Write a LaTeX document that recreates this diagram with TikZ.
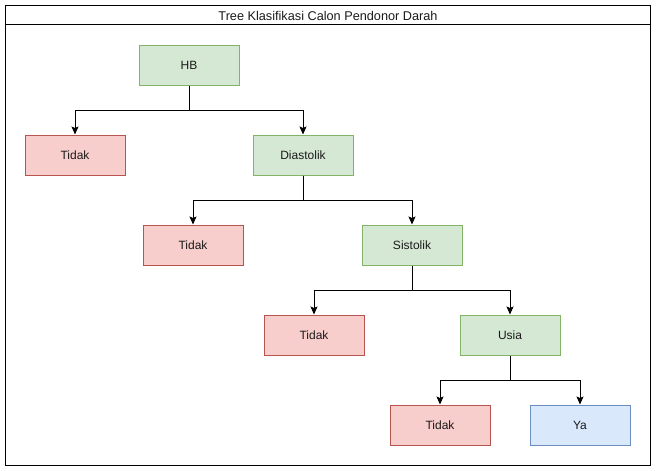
\documentclass[tikz,border=0pt]{standalone}
\usepackage{fontspec}
\setmainfont{Liberation Sans}
\usetikzlibrary{arrows.meta}
\definecolor{gfill}{HTML}{D5E8D4}\definecolor{gdraw}{HTML}{82B366}
\definecolor{rfill}{HTML}{F8CECC}\definecolor{rdraw}{HTML}{B85450}
\definecolor{bfill}{HTML}{DAE8FC}\definecolor{bdraw}{HTML}{6C8EBF}
\definecolor{txt}{HTML}{1A1A1A}
\begin{document}
\begin{tikzpicture}[x=1pt,y=-1pt,
  box/.style={rectangle,minimum width=100pt,minimum height=40pt,inner sep=0pt,line width=1pt,
    font=\fontsize{12}{14}\selectfont,text=txt},
  green/.style={box,fill=gfill,draw=gdraw},
  red/.style={box,fill=rfill,draw=rdraw},
  blue/.style={box,fill=bfill,draw=bdraw},
  edge/.style={line width=1pt,-{Stealth[length=8pt,width=7pt,inset=1.5pt]}}]
\useasboundingbox (0,0) rectangle (656,471);
\draw[line width=1pt] (5.5,5.5) rectangle (650,465);
\draw[line width=1pt] (5.5,24.5) -- (650,24.5);
\node[font=\fontsize{12.7}{14}\selectfont,text=txt] (title) at (328,16) {Tree Klasifikasi Calon Pendonor Darah};
\node[green] (hb) at (189,65) {HB};
\node[red] (t1) at (75,155) {Tidak};
\node[green] (dia) at (303,155) {Diastolik};
\node[red] (t2) at (193,245) {Tidak};
\node[green] (sis) at (412,245) {Sistolik};
\node[red] (t3) at (314,335) {Tidak};
\node[green] (usia) at (510,335) {Usia};
\node[red] (t4) at (440,425) {Tidak};
\node[blue] (ya) at (580,425) {Ya};
\draw[edge] (hb.south) |- ++(0,25) -| (t1.north);
\draw[edge] (hb.south) |- ++(0,25) -| (dia.north);
\draw[edge] (dia.south) |- ++(0,25) -| (t2.north);
\draw[edge] (dia.south) |- ++(0,25) -| (sis.north);
\draw[edge] (sis.south) |- ++(0,25) -| (t3.north);
\draw[edge] (sis.south) |- ++(0,25) -| (usia.north);
\draw[edge] (usia.south) |- ++(0,25) -| (t4.north);
\draw[edge] (usia.south) |- ++(0,25) -| (ya.north);
\end{tikzpicture}
\end{document}
